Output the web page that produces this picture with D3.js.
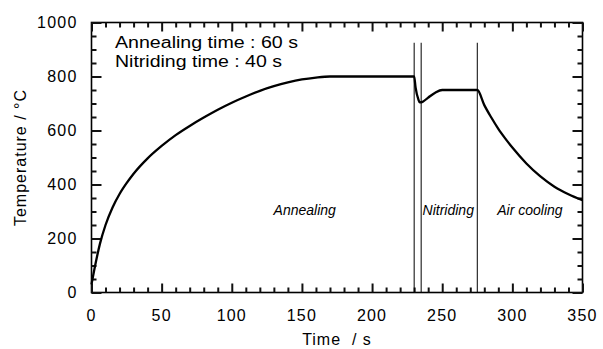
<!DOCTYPE html>
<html><head><meta charset="utf-8">
<script src="https://cdn.jsdelivr.net/npm/d3@7"></script>
<style>
body{margin:0;background:#fff;}
svg{display:block;font-family:"Liberation Sans",Arial,sans-serif;}
</style></head>
<body><svg id="c" width="603" height="349"></svg>
<script>
// ---- data ----
const timeS = [0,3,6,10,15,20,25,30,40,50,60,70,80,90,100,110,120,130,140,150,160,170,230,231,233,234,236,240,245,250,275,280,285,290,295,300,310,320,330,340,350];
const tempC = [30,110,180,250,315,365,405,440,497,543,583,617,648,677,703,726,747,764,778,789,796,800,800,760,715,704,706,722,740,750,750,694,648,606,570,537,478,430,392,364,342];
const stageBoundaries = [230, 235, 275];
const stageNames = ["Annealing", "Nitriding", "Air cooling"];
const stageLabelTime = [152, 254.3, 312.5];
const infoLines = ["Annealing time : 60 s", "Nitriding time : 40 s"];
const xMajor = [0,50,100,150,200,250,300,350];
const yMajor = [0,200,400,600,800,1000];

const svg = d3.select("#c");
const L=91.5, R=582.5, T=22.5, B=292.5;
const x = d3.scaleLinear().domain([0,350]).range([L,R]);
const y = d3.scaleLinear().domain([0,1000]).range([B,T]);
const xMinor = d3.range(0,351,10).filter(v=>v%50!==0);
const yMinor = d3.range(0,1001,50).filter(v=>v%200!==0);

// frame
svg.append("rect").attr("x",L).attr("y",T).attr("width",R-L).attr("height",B-T)
  .attr("fill","none").attr("stroke","#000").attr("stroke-width",1.6);

// ticks via d3 axes (inward on all four sides)
function ax(g){ g.select(".domain").remove(); g.selectAll(".tick line").attr("stroke","#111").attr("stroke-width",2); }
function addAxis(axis, tx, ty){
  svg.append("g").attr("transform",`translate(${tx},${ty})`).call(axis.tickFormat("")).call(ax);
}
addAxis(d3.axisBottom(x).tickValues(xMajor).tickSize(-9), 0, B);
addAxis(d3.axisBottom(x).tickValues(xMinor).tickSize(-5), 0, B);
addAxis(d3.axisTop(x).tickValues(xMajor).tickSize(-9), 0, T);
addAxis(d3.axisTop(x).tickValues(xMinor).tickSize(-5), 0, T);
addAxis(d3.axisLeft(y).tickValues(yMajor).tickSize(-10), L, 0);
addAxis(d3.axisLeft(y).tickValues(yMinor).tickSize(-5), L, 0);
addAxis(d3.axisRight(y).tickValues(yMajor).tickSize(-10), R, 0);
addAxis(d3.axisRight(y).tickValues(yMinor).tickSize(-5), R, 0);

// tick labels
svg.selectAll("text.xlab").data(xMajor).join("text").attr("class","xlab")
  .attr("x",d=>x(d)).attr("y",B+28).attr("text-anchor","middle")
  .style("font-size","16px").style("letter-spacing","1.2px").text(d=>d);
svg.selectAll("text.ylab").data(yMajor).join("text").attr("class","ylab")
  .attr("x",L-14).attr("y",d=>y(d)).attr("dy","0.36em").attr("text-anchor","end")
  .style("font-size","16px").style("letter-spacing","1.2px").text(d=>d);

// stage boundaries
svg.selectAll("line.stage").data(stageBoundaries).join("line").attr("class","stage")
  .attr("x1",d=>x(d)).attr("x2",d=>x(d)).attr("y1",y(925)).attr("y2",B)
  .attr("stroke","#000").attr("stroke-width",1);

// curve
const pts = timeS.map((t,i)=>[t,tempC[i]]);
svg.append("path").datum(pts)
  .attr("d",d3.line().x(d=>x(d[0])).y(d=>y(d[1])).curve(d3.curveMonotoneX))
  .attr("fill","none").attr("stroke","#000").attr("stroke-width",2.3).attr("stroke-linejoin","round");

// stage labels
svg.selectAll("text.stage").data(stageNames).join("text").attr("class","stage")
  .attr("x",(d,i)=>x(stageLabelTime[i])).attr("y",y(287))
  .attr("text-anchor","middle").style("font-style","italic").style("font-size","14px")
  .text(d=>d);

// info text
svg.selectAll("text.info").data(infoLines).join("text").attr("class","info")
  .attr("x",115).attr("y",(d,i)=>48.3+i*18.2)
  .attr("textLength",(d,i)=>i===0?183:167).attr("lengthAdjust","spacingAndGlyphs")
  .style("font-size","16px").text(d=>d);

// axis titles
svg.append("text").attr("x",(L+R)/2).attr("y",345).attr("text-anchor","middle")
  .attr("xml:space","preserve")
  .style("font-size","16px").style("letter-spacing","1px").text("Time  / s");
svg.append("text").attr("transform",`translate(25.5,${(T+B)/2}) rotate(-90)`).attr("text-anchor","middle")
  .style("font-size","16px").style("letter-spacing","1px").text("Temperature / °C");
</script></body></html>
